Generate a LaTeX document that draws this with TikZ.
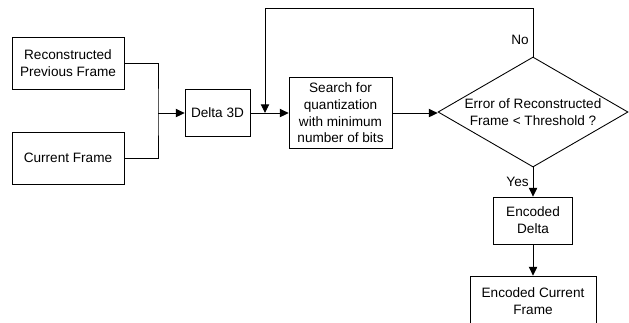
\documentclass[tikz,border=0pt]{standalone}
\usepackage{fontspec}
\setmainfont{Liberation Sans}
\usetikzlibrary{arrows.meta,shapes.geometric}

\begin{document}
\begin{tikzpicture}[x=0.03cm,y=-0.03cm,
font=\fontsize{11.6}{14.3}\selectfont,
blk/.style={draw,align=center,minimum width=3.36cm,minimum height=1.56cm,line width=.75pt},
decision/.style={draw,diamond,align=center,inner sep=0pt,minimum width=5.7cm,minimum height=3.3cm,shape aspect=1.75,line width=.75pt},
arr/.style={-{Triangle[length=2.6mm,width=2.5mm]},line width=.75pt},
lnk/.style={line width=.75pt}]
\useasboundingbox (0,0) rectangle (629,322);
\node[blk](prevframe) at (68,63){Reconstructed\\Previous Frame};
\node[blk](curframe) at (68,158){Current Frame};
\node[blk,minimum width=1.95cm,minimum height=1.41cm](delta) at (217.5,113){Delta 3D};
\node[blk,minimum width=3.09cm,minimum height=2.13cm](search) at (340.5,113){Search for\\quantization\\with minimum\\number of bits};
\node[decision](check) at (533,112){Error of Reconstructed\\Frame < Threshold ?};
\node[blk,minimum width=2.37cm,minimum height=1.41cm](encdelta) at (533,220.5){Encoded\\Delta};
\node[blk,minimum width=3.78cm,minimum height=1.5cm](encframe) at (533,301){Encoded Current\\Frame};
\coordinate (join) at (158,113);
\coordinate (loopin) at (265,113);
\coordinate (looptop) at (265,8);
% inputs merge into the delta block
\draw[lnk](prevframe.east) -| (join) |- (curframe.east);
\draw[arr](join) -- (delta);
\draw[arr](delta) -- (search);
\draw[arr](search.east) -- (search.east -| check.west);
% retry loop back before the search
\draw[arr](check.north) -- node[left,pos=.35]{No} (check.north |- looptop) -- (looptop) -- (loopin);
\draw[arr](check.south) -- node[left]{Yes} (encdelta);
\draw[arr](encdelta) -- (encframe);
\end{tikzpicture}
\end{document}
